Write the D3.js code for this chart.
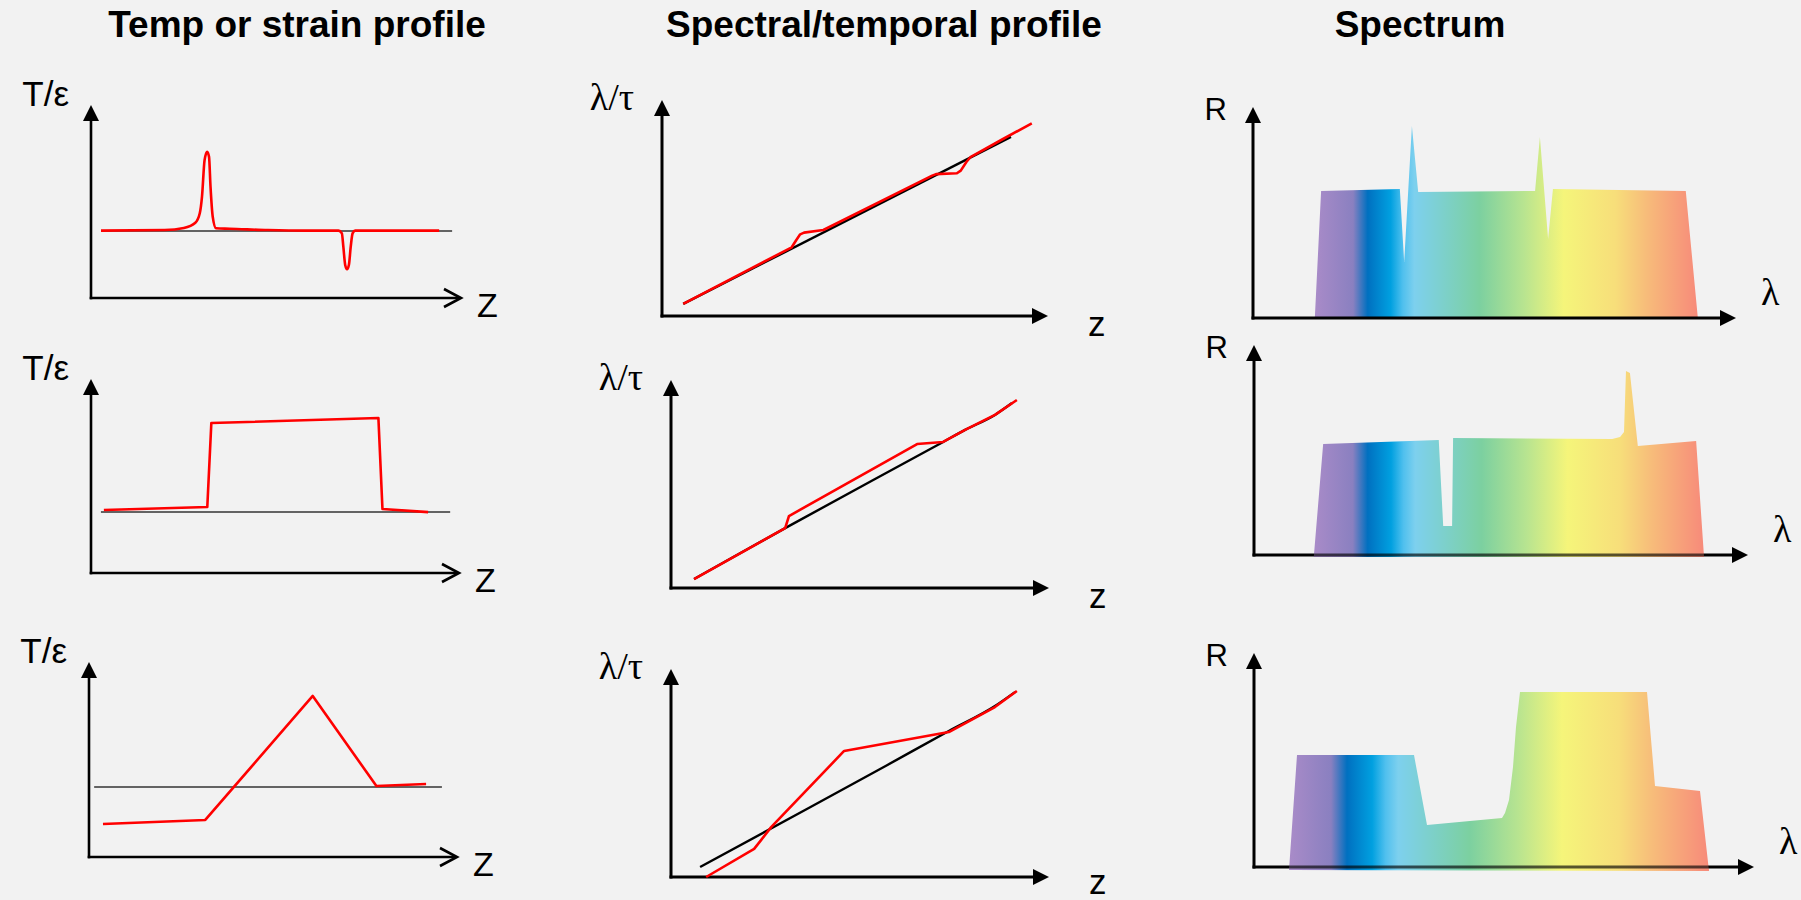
<!DOCTYPE html>
<html>
<head>
<meta charset="utf-8">
<script src="https://cdn.jsdelivr.net/npm/d3@7"></script>
<style>
  html, body { margin: 0; padding: 0; background: #f2f2f2; }
  svg { display: block; }
</style>
</head>
<body>
<svg id="chart" width="1801" height="900"></svg>
<script>
// ---------------- DATA (domain units, 0..100 on each axis) ----------------
const columnTitles = ["Temp or strain profile", "Spectral/temporal profile", "Spectrum"];
const yAxisLabels = ["T/ε", "λ/τ", "R"];
const xAxisLabels = ["Z", "z", "λ"];

// Column 1: temperature / strain along the fibre
const tempReferenceLevel = [34.7, 31.4, 35.9];
const tempReferenceFrom  = [2.7, 2.7, 1.4];
const tempReferenceTo    = [97.6, 97.6, 95.9];

const hotSpotZ = [2.7, 19.9, 25.1, 28.2, 29.4, 30, 30.7, 31.4, 31.9, 32.3, 32.9, 33.8, 37.5, 47.8, 58.1,
                  66.9, 67.8, 68.2, 68.7, 69.2, 69.7, 70.2, 70.7, 71.4, 94.1];
const hotSpotT = [34.9, 35.2, 36.3, 39, 43.9, 52.5, 71.5, 75.8, 73.2, 57.7, 42.1, 36.1, 35.9, 35.2, 34.9,
                  34.9, 33.5, 26.6, 17.1, 14.9, 17.1, 26.6, 33.5, 34.9, 34.9];

const stepZ = [3.5, 31.6, 32.7, 78.1, 79.2, 91.6];
const stepT = [32.5, 34, 77.3, 79.9, 33, 31.4];

const rampZ = [3.8, 31.6, 60.8, 78.1, 91.6];
const rampT = [16.9, 19, 82.6, 36.4, 37.4];

// Column 2: spectral / temporal response along z (black = reference, red = measured)
const refLineZ1 = [5.5, 90.4];
const refLineL1 = [5.6, 82.9];
const shiftZ1 = [5.5, 33.6, 34.8, 35.8, 36.8, 41.8, 70, 71, 76.4, 77.4, 78.9, 79.9, 88, 95.8];
const shiftL1 = [5.6, 31.8, 35.2, 37.8, 38.6, 39.8, 65, 65.7, 66.1, 67.3, 71.4, 73.5, 81.6, 89.2];

const refLineZ2 = [6.1, 30.2, 72, 77.8, 85.7, 90.2];
const refLineL2 = [4.3, 28.8, 70.2, 76, 83.2, 88.9];
const shiftZ2 = [6.1, 30.2, 31.2, 65.1, 72, 77.8, 85.7, 91.5];
const shiftL2 = [4.3, 28.8, 34.6, 69.2, 70.2, 76, 83.2, 90.4];

const refLineZ3 = [7.7, 36.8, 56.9, 73.5, 85.7, 91];
const refLineL3 = [4.8, 33.5, 53.5, 70.2, 82.2, 88.9];
const shiftZ3 = [9.3, 22, 26.5, 45.8, 73.5, 85.7, 91.5];
const shiftL3 = [0, 13.5, 24, 60.6, 69.7, 81.7, 89.4];

// Column 3: reflection spectra
const spectrumL1 = [12.8, 14.1, 30.4, 31.3, 32.9, 34.2, 58.4, 59.4, 61.1, 62.1, 89.6, 92.1];
const spectrumR1 = [0, 60.2, 61.1, 26.5, 91, 59.7, 60.2, 85.8, 37.4, 61.1, 60.2, 0];

const spectrumL2 = [12.1, 14, 37.4, 38.3, 40.1, 40.3, 72.5, 74.1, 74.9, 75.3, 76.1, 77.7, 89.5, 91.1];
const spectrumR2 = [-1, 52.9, 54.8, 13.8, 13.8, 55.7, 55.2, 56.2, 58.6, 87.6, 86.7, 51.9, 54.3, -1];

const spectrumL3 = [7, 8.6, 32, 34.6, 49.6, 50.2, 51, 51.8, 52.4, 53.2, 78.6, 80.2, 89.2, 91];
const spectrumR3 = [-1.4, 52.3, 52.3, 19.6, 22.9, 25.2, 31.3, 46.7, 65.4, 81.8, 81.8, 37.9, 35.5, -1.9];

const spectrumStopOffsets = [0, 0.1, 0.138, 0.198, 0.23, 0.26, 0.325, 0.43, 0.546, 0.65, 0.785, 0.866, 1];
const spectrumStopColors  = ["#a98bc8", "#8a80c0", "#0070c0", "#00a0e0", "#50c0ee", "#7dd0ee", "#7dd0d0",
                             "#7cd0a0", "#b8e490", "#f5f57a", "#f7de7a", "#f7bc7a", "#f78a7a"];

// ---------------- LAYOUT ----------------
const svg = d3.select("#chart");
svg.append("rect").attr("width", 1801).attr("height", 900).attr("fill", "#f2f2f2");

const titleX = [297, 884, 1420];
const panels = [
  // column 1
  {col: 0, ox: 91,   oy: 298, w: 370, h: 193},
  {col: 0, ox: 91,   oy: 573, w: 368, h: 194},
  {col: 0, ox: 89,   oy: 857, w: 368, h: 195},
  // column 2
  {col: 1, ox: 662,  oy: 316, w: 386, h: 216},
  {col: 1, ox: 671,  oy: 588, w: 378, h: 208},
  {col: 1, ox: 671,  oy: 877, w: 378, h: 208},
  // column 3
  {col: 2, ox: 1253, oy: 318, w: 483, h: 211},
  {col: 2, ox: 1254, oy: 555, w: 494, h: 210},
  {col: 2, ox: 1254, oy: 867, w: 500, h: 214}
];

const sans = "'Liberation Sans', Arial, sans-serif";
const serif = "'Liberation Serif', 'Times New Roman', serif";

// titles
svg.selectAll("text.title").data(columnTitles).join("text")
  .attr("class", "title")
  .attr("x", (d, i) => titleX[i]).attr("y", 37)
  .attr("text-anchor", "middle")
  .attr("font-family", sans).attr("font-weight", "bold").attr("font-size", 37)
  .attr("fill", "#000").text(d => d);

const zip = (xs, ys) => xs.map((x, i) => [x, ys[i]]);

const defs = svg.append("defs");
const grad = defs.append("linearGradient").attr("id", "rainbow")
  .attr("x1", "0%").attr("x2", "100%").attr("y1", "0%").attr("y2", "0%");
grad.selectAll("stop").data(spectrumStopOffsets).join("stop")
  .attr("offset", d => d).attr("stop-color", (d, i) => spectrumStopColors[i]);

const tempSeries = [
  {pts: zip(hotSpotZ, hotSpotT), curve: d3.curveMonotoneX},
  {pts: zip(stepZ, stepT), curve: d3.curveLinear},
  {pts: zip(rampZ, rampT), curve: d3.curveLinear}
];
const specSeries = [
  {ref: zip(refLineZ1, refLineL1), red: zip(shiftZ1, shiftL1)},
  {ref: zip(refLineZ2, refLineL2), red: zip(shiftZ2, shiftL2)},
  {ref: zip(refLineZ3, refLineL3), red: zip(shiftZ3, shiftL3)}
];
const spectra = [zip(spectrumL1, spectrumR1), zip(spectrumL2, spectrumR2), zip(spectrumL3, spectrumR3)];

panels.forEach((p, idx) => {
  const row = idx % 3;
  const x = d3.scaleLinear().domain([0, 100]).range([p.ox, p.ox + p.w]);
  const y = d3.scaleLinear().domain([0, 100]).range([p.oy, p.oy - p.h]);
  const g = svg.append("g");
  const line = d3.line().x(d => x(d[0])).y(d => y(d[1]));
  const axisW = p.col === 0 ? 2.6 : 3;

  // spectrum fill drawn under the axes
  let spectrumPath = null;
  if (p.col === 2) {
    spectrumPath = line.curve(d3.curveLinear)(spectra[row]) + "Z";
    g.append("path").attr("d", spectrumPath).attr("fill", "url(#rainbow)");
  }

  // y axis
  g.append("line").attr("x1", x(0)).attr("x2", x(0)).attr("y1", y(0) + axisW / 2).attr("y2", y(100) + 12)
    .attr("stroke", "#000").attr("stroke-width", axisW);
  g.append("path")
    .attr("d", `M${x(0)},${y(100)} L${x(0) + 8},${y(100) + 16} L${x(0) - 8},${y(100) + 16} Z`)
    .attr("fill", "#000");
  // x axis
  if (p.col === 0) {
    g.append("line").attr("x1", x(0) - axisW / 2).attr("x2", x(100) - 1).attr("y1", y(0)).attr("y2", y(0))
      .attr("stroke", "#000").attr("stroke-width", axisW);
    g.append("path")
      .attr("d", `M${x(100) - 17},${y(0) - 9} L${x(100)},${y(0)} L${x(100) - 17},${y(0) + 9}`)
      .attr("fill", "none").attr("stroke", "#000").attr("stroke-width", axisW);
  } else {
    g.append("line").attr("x1", x(0) - axisW / 2).attr("x2", x(100) - 12).attr("y1", y(0)).attr("y2", y(0))
      .attr("stroke", "#000").attr("stroke-width", axisW);
    g.append("path")
      .attr("d", `M${x(100)},${y(0)} L${x(100) - 16},${y(0) - 8} L${x(100) - 16},${y(0) + 8} Z`)
      .attr("fill", "#000");
  }

  // translucent spectrum tint over the axis where the spectrum dips below it
  if (p.col === 2 && d3.min(spectra[row], d => d[1]) < 0) {
    const clipId = "axisclip" + row;
    defs.append("clipPath").attr("id", clipId).append("rect")
      .attr("x", 0).attr("width", 1801).attr("y", y(0) - axisW / 2 - 0.5).attr("height", axisW + 4);
    g.append("path").attr("d", spectrumPath).attr("fill", "url(#rainbow)")
      .attr("opacity", 0.35).attr("clip-path", `url(#${clipId})`);
  }

  // axis labels
  if (p.col === 0) {
    g.append("text").attr("x", x(0) - 22).attr("y", y(100) + 1).attr("text-anchor", "end")
      .attr("font-family", sans).attr("font-size", 35).text(yAxisLabels[0]);
    g.append("text").attr("x", x(100) + 16).attr("y", y(0) + 19)
      .attr("font-family", sans).attr("font-size", 34).text(xAxisLabels[0]);
  } else if (p.col === 1) {
    g.append("text").attr("x", x(0) - 28).attr("y", y(100) + 10).attr("text-anchor", "end")
      .attr("font-family", serif).attr("font-size", 38).text(yAxisLabels[1]);
    g.append("text").attr("x", x(100) + 40).attr("y", Math.min(y(0) + 20, 894))
      .attr("font-family", sans).attr("font-size", 35).text(xAxisLabels[1]);
  } else {
    g.append("text").attr("x", x(0) - 26).attr("y", y(100) + 13).attr("text-anchor", "end")
      .attr("font-family", sans).attr("font-size", 31).text(yAxisLabels[2]);
    g.append("text").attr("x", x(100) + 25).attr("y", y(0) - 13)
      .attr("font-family", serif).attr("font-size", 38).text(xAxisLabels[2]);
  }

  // series
  if (p.col === 0) {
    g.append("line")
      .attr("x1", x(tempReferenceFrom[row])).attr("x2", x(tempReferenceTo[row]))
      .attr("y1", y(tempReferenceLevel[row])).attr("y2", y(tempReferenceLevel[row]))
      .attr("stroke", "#333").attr("stroke-width", 1.5);
    const s = tempSeries[row];
    g.append("path").attr("d", line.curve(s.curve)(s.pts))
      .attr("fill", "none").attr("stroke", "#ff0000").attr("stroke-width", 2.6)
      .attr("stroke-linejoin", "round");
  } else if (p.col === 1) {
    const s = specSeries[row];
    g.append("path").attr("d", line.curve(d3.curveMonotoneX)(s.ref))
      .attr("fill", "none").attr("stroke", "#000").attr("stroke-width", 2.4);
    g.append("path").attr("d", line.curve(d3.curveLinear)(s.red))
      .attr("fill", "none").attr("stroke", "#ff0000").attr("stroke-width", 2.6)
      .attr("stroke-linejoin", "round");
  }
});
</script>
</body>
</html>
